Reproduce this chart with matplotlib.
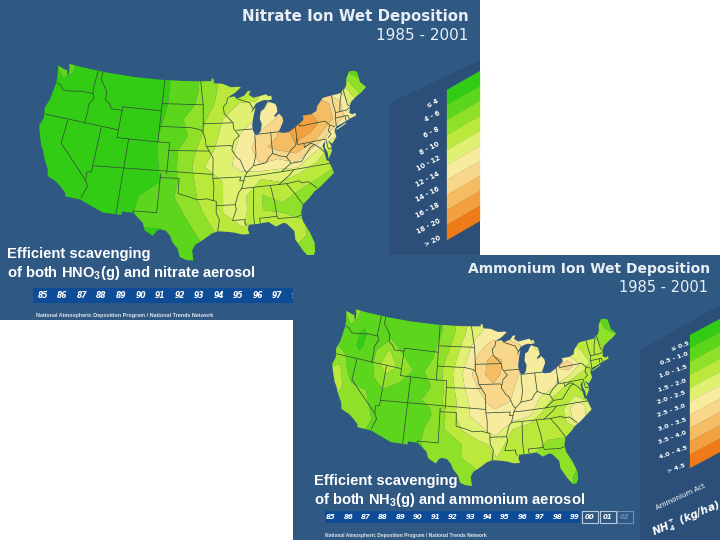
import numpy as np
import matplotlib
matplotlib.use('Agg')
import matplotlib.pyplot as plt
from matplotlib.patches import Polygon, Rectangle, PathPatch
from matplotlib.path import Path

plt.rcParams['mathtext.default'] = 'regular'

PANEL = '#2f5883'
DARK = '#2b4f78'
STRIP = '#0f4c97'

#class colours, lowest class first
colors = ['#33cc14', '#5cd61c', '#8ee128', '#bae93b', '#e0f070',
          '#f7ec9e', '#f8d68a', '#f5bd63', '#f2a040', '#ef7a18']

nitrate_levels = [0, 4, 6, 8, 10, 12, 14, 16, 18, 20, 99]
nitrate_labels = ['≤ 4', '4 - 6', '6 - 8', '8 - 10', '10 - 12', '12 - 14',
                  '14 - 16', '16 - 18', '18 - 20', '> 20']
ammonium_levels = [0, 0.5, 1, 1.5, 2, 2.5, 3, 3.5, 4, 4.5, 99]
ammonium_labels = ['≤ 0.5', '0.5 - 1.0', '1.0 - 1.5', '1.5 - 2.0', '2.0 - 2.5',
                   '2.5 - 3.0', '3.0 - 3.5', '3.5 - 4.0', '4.0 - 4.5', '> 4.5']
years_a = ['85', '86', '87', '88', '89', '90', '91', '92', '93', '94', '95', '96', '97', '98']
years_b = ['85', '86', '87', '88', '89', '90', '91', '92', '93', '94', '95', '96', '97', '98', '99']
years_b_boxed = ['00', '01', '02']

grid_lon = [-126, -123, -120, -117, -114, -111, -108, -105, -102, -99, -96, -93, -90, -87, -84, -81, -78, -75, -72, -69, -66]
grid_lat = [50, 48, 46, 44, 42, 40, 38, 36, 34, 32, 30, 28, 26, 24]

#deposition, kg/ha, north to south
nitrate = [
    [3, 5, 3, 3, 3, 3, 3, 3, 4.5, 5, 7, 8.5, 8.5, 9, 10, 10, 10, 10, 8, 5, 5],
    [3, 5, 3, 3, 3, 3, 3, 3, 4.5, 5, 7, 8.5, 8.5, 9, 10, 10, 11, 11, 8, 5, 5],
    [3, 3, 3, 3, 3, 3, 3, 3, 4.5, 5.5, 7, 9, 10, 10, 12, 13, 14, 14, 12, 7, 5],
    [3, 3, 3, 3, 3, 3, 3, 3, 5, 6.5, 8, 10, 10.5, 12, 13.5, 15, 18, 17, 14, 9, 6],
    [3, 3, 3, 3, 3, 3, 3, 3.5, 5, 6, 8.5, 10.5, 12, 14, 15, 19, 19, 17, 14, 11, 8],
    [3, 3, 3, 3, 3, 3, 3, 3.5, 5, 7, 9, 11, 12.5, 15, 17, 18, 17, 13, 12, 10, 8],
    [3, 3, 3, 3, 3, 3, 3, 3, 5, 7, 10, 11, 13, 14, 13.5, 15, 11, 9, 9, 8, 8],
    [3, 3, 3, 3.5, 3, 3, 3, 3, 4.5, 7, 9, 10, 10.5, 10, 10.5, 10, 9, 8, 8, 8, 8],
    [3, 3, 3, 3.5, 3.5, 3, 3, 4.5, 5, 7, 8.5, 10, 10.5, 8, 9, 8, 7, 7, 7, 7, 7],
    [3, 3, 3, 3.5, 3.5, 3, 3, 5, 5, 6, 8, 10, 10.5, 8, 7.5, 7, 6, 6, 6, 6, 6],
    [3, 3, 3, 3, 3, 3, 4, 4, 4, 5, 7, 9, 10, 9, 9, 8, 7, 6, 6, 6, 6],
    [3, 3, 3, 3, 3, 3, 4, 4, 4, 5, 6, 8, 9, 9, 9, 8, 7, 6, 6, 6, 6],
    [3, 3, 3, 3, 3, 3, 4, 4, 4, 5, 6, 6, 8, 8, 8, 7, 7, 6, 6, 6, 6],
    [3, 3, 3, 3, 3, 3, 4, 4, 4, 5, 6, 6, 8, 8, 8, 7, 7, 6, 6, 6, 6],
]
ammonium = [
    [.8, 1.2, .8, .8, .8, .8, .8, .8, 1.2, 1.8, 2.3, 2.6, 2.6, 2.5, 2.2, 2, 2, 1.7, 1.3, .9, .9],
    [.8, 1.2, .7, .8, .8, .8, .8, .8, 1.2, 1.9, 2.4, 2.7, 2.8, 2.7, 2.3, 2, 2, 1.8, 1.4, .9, .9],
    [.8, .9, .4, .8, 1, .8, .8, .9, 1.4, 2.1, 2.8, 3.2, 3.3, 3, 2.4, 2.2, 2, 1.8, 1.5, 1, .9],
    [1, .8, .4, .9, 1.6, 1, .8, 1, 1.6, 2.3, 3.1, 3.7, 3.4, 3, 2.6, 2.6, 2.4, 2, 1.7, 1.2, 1],
    [1.2, 1.1, .7, .9, 1.9, 1.3, .9, 1.1, 1.7, 2.5, 3.3, 3.7, 3.3, 2.9, 2.6, 3, 3.4, 2.2, 1.7, 1.4, 1.2],
    [1.3, 1.7, .5, .9, 1.2, 1, .9, 1, 1.6, 2.4, 3, 3.4, 3.1, 2.8, 2.9, 2.7, 2, 1.8, 1.6, 1.4, 1.2],
    [1.4, 1.8, 1.2, 1, .9, .9, .9, 1.1, 1.6, 2.2, 2.9, 3.1, 3, 2.9, 2.4, 1.8, 1.8, 1.8, 1.6, 1.4, 1.2],
    [1.5, 1.6, 1.3, 1.1, .8, .7, .5, .9, 1.5, 2.3, 2.7, 2.9, 2.9, 2.7, 1.9, 1.8, 3, 2, 1.6, 1.4, 1.2],
    [1.3, 1.2, 1.2, 1.2, .9, .5, .6, 1.1, 1.5, 2, 2.3, 2.8, 2, 1.7, 1.7, 1.7, 3, 1.6, 1.4, 1.4, 1.2],
    [1.2, 1.2, 1.2, 1.1, .8, .7, .8, 1.1, 1.3, 1.5, 1.9, 2.1, 1.9, 1.6, 1.5, 1.5, 1.4, 1.4, 1.4, 1.4, 1.2],
    [1, 1, 1, 1, 1, 1, 1, 1, 1.2, 1.5, 1.8, 2, 1.8, 1.5, 1.3, 1.1, 1, 1, 1, 1, 1],
    [1, 1, 1, 1, 1, 1, 1, 1, 1, 1.3, 1.5, 1.6, 1.8, 1.6, 1.3, 1.1, .9, .9, .9, .9, .9],
    [1, 1, 1, 1, 1, 1, 1, 1, 1, 1.4, 1.5, 1.5, 1.6, 1.5, 1.3, 1, .9, .9, .9, .9, .9],
    [1, 1, 1, 1, 1, 1, 1, 1, 1, 1.4, 1.5, 1.5, 1.6, 1.5, 1.3, 1, .9, .9, .9, .9, .9],
]

#lower 48 coastline and border, lon/lat
us_outline = [(-124.7, 48.4), (-123.2, 48.15), (-122.75, 48.15), (-122.4, 47.4), (-122.3, 47.9), (-122.5, 48.6), (-122.8, 49),
    (-120, 49), (-115, 49), (-110, 49), (-105, 49), (-100, 49), (-97.2, 49), (-95.15, 49), (-95.15, 49.38), (-94.8, 49.3), (-94.6, 48.7),
    (-93, 48.6), (-91.5, 48.1), (-90, 48.1), (-89.6, 48), (-90.8, 47.3), (-91.5, 47.05), (-92.1, 46.75), (-90.9, 46.9), (-90.4, 46.55),
    (-89, 46.9), (-88.4, 47.4), (-87.8, 47.45), (-88.2, 46.95), (-87.4, 46.5), (-86, 46.65), (-85, 46.75), (-84.6, 46.45), (-84.1, 46.5),
    (-84, 46), (-84.7, 45.95), (-85.5, 46.05), (-86.3, 45.9), (-87, 45.7), (-87.6, 45.1), (-88, 44.55), (-87.1, 45.25), (-87.5, 44.3),
    (-87.9, 43), (-87.8, 42.3), (-87.5, 41.7), (-87, 41.7), (-86.5, 42.1), (-86.2, 43), (-86.5, 43.7), (-86.2, 44.7), (-85.6, 44.9),
    (-85.1, 45.5), (-84.75, 45.78), (-83.5, 45.35), (-83.3, 44.9), (-83.3, 44.3), (-83.9, 43.9), (-83.9, 43.65), (-83, 44.05), (-82.5, 43.5),
    (-82.45, 43), (-82.9, 42.4), (-83.2, 42), (-83.45, 41.7), (-82.7, 41.5), (-81.7, 41.5), (-80.5, 42), (-79, 42.7), (-78.9, 43),
    (-79.05, 43.27), (-77.5, 43.25), (-76.5, 43.5), (-76.2, 44.1), (-75, 44.95), (-74.7, 45), (-71.5, 45.02), (-71.3, 45.3), (-70.8, 45.4),
    (-70.3, 45.9), (-70, 46.7), (-69.2, 47.45), (-68.3, 47.35), (-67.8, 47.05), (-67.8, 45.7), (-67, 44.85), (-68, 44.4), (-69, 44.1),
    (-70.2, 43.6), (-70.7, 43.05), (-70.8, 42.6), (-71, 42.3), (-70.6, 41.95), (-70, 42.05), (-69.95, 41.7), (-70.6, 41.6), (-71.2, 41.5),
    (-72, 41.3), (-73.6, 41), (-74, 40.7), (-74.1, 40.4), (-74, 39.7), (-74.9, 38.95), (-75.55, 39.5), (-75.1, 38.7), (-75.2, 38),
    (-75.95, 37.15), (-75.9, 37.9), (-76.2, 38.7), (-76, 39.5), (-76.5, 39), (-76.4, 38), (-76.3, 37), (-76, 36.9), (-75.5, 35.25),
    (-76.5, 34.7), (-77.9, 33.9), (-79, 33.4), (-79.9, 32.7), (-81, 32), (-81.4, 31), (-81.3, 29.9), (-80.55, 28.4), (-80.05, 26.9),
    (-80.15, 25.7), (-80.5, 25.2), (-81.1, 25.15), (-81.8, 26.1), (-82.7, 27.7), (-82.7, 28.8), (-83.7, 29.9), (-84.2, 30.05), (-85.3, 29.7),
    (-86.3, 30.4), (-88, 30.3), (-89.2, 30.3), (-89.4, 29.8), (-89.2, 29.1), (-90.2, 29.1), (-91.3, 29.4), (-92.2, 29.55), (-93.8, 29.7),
    (-94.7, 29.4), (-95.8, 28.7), (-97, 28), (-97.4, 27.3), (-97.2, 25.95), (-98.2, 26.05), (-99.1, 26.4), (-99.5, 27.5), (-100.3, 28.3),
    (-100.7, 29.1), (-101.4, 29.77), (-102.3, 29.88), (-102.7, 29.7), (-103.2, 29), (-104.5, 29.65), (-104.9, 30.6), (-106.5, 31.75),
    (-108.2, 31.78), (-108.2, 31.33), (-111.07, 31.33), (-114.8, 32.5), (-117.12, 32.53), (-117.3, 33), (-118.4, 33.75), (-119.2, 34.15),
    (-120.6, 34.55), (-120.9, 35.4), (-121.9, 36.6), (-122.5, 37.5), (-123, 38), (-123.8, 39.3), (-124.4, 40.4), (-124.1, 41.5),
    (-124.5, 42.8), (-124.1, 44), (-124, 46.2), (-124.1, 46.9), (-124.7, 48.4)]
long_island = [(-74, 40.6), (-72, 41.15), (-71.9, 41.05), (-73.5, 40.6), (-74, 40.6)]

state_lines = [
    [(-124, 46.25), (-123.2, 46.15), (-122.3, 45.55), (-121.2, 45.65), (-119.3, 45.93), (-118.98, 46), (-116.92, 46)],
    [(-117.03, 49), (-117.04, 46.4), (-116.92, 46), (-116.5, 45.5), (-117.2, 44.4), (-117.03, 43.8), (-117.03, 42)],
    [(-124.2, 42), (-111.05, 42)],
    [(-120, 42), (-120, 39), (-114.63, 35), (-114.15, 34.3), (-114.5, 33.4), (-114.72, 32.72)],
    [(-114.63, 35), (-114.75, 36.1), (-114.05, 36.2), (-114.05, 42)],
    [(-114.05, 37), (-94.62, 37)],
    [(-109.05, 41), (-109.05, 31.33)],
    [(-111.05, 45), (-111.05, 41), (-104.05, 41)],
    [(-116.05, 49), (-116.05, 48), (-114.5, 46.6), (-114.4, 45.55), (-113.5, 45.1), (-113, 44.5), (-111.5, 44.55), (-111.05, 44.5)],
    [(-111.05, 45), (-104.05, 45)],
    [(-104.05, 49), (-104.05, 41), (-102.05, 41), (-102.05, 37)],
    [(-102.05, 40), (-95.3, 40)],
    [(-103, 37), (-103, 32), (-106.6, 32), (-106.5, 31.75)],
    [(-103, 36.5), (-100, 36.5), (-100, 34.56), (-98, 34.1), (-97, 33.8), (-95.5, 33.9), (-94.5, 33.65), (-94.04, 33.55), (-94.04, 32), (-93.55, 31.2), (-93.8, 29.7)],
    [(-104.05, 45.94), (-96.56, 45.94)],
    [(-104.05, 43), (-98.5, 43), (-97, 42.75), (-96.45, 42.5)],
    [(-97.2, 49), (-96.8, 47), (-96.56, 45.94), (-96.45, 43.5), (-96.45, 42.5), (-96, 41.5), (-95.85, 40.7), (-95.3, 40), (-94.62, 39.1), (-94.62, 36.5), (-94.43, 35.4), (-94.5, 33.65)],
    [(-96.45, 43.5), (-91.22, 43.5)],
    [(-95.77, 40.58), (-91.7, 40.6), (-91.4, 40.4)],
    [(-94.62, 36.5), (-90.15, 36.5), (-90.37, 36), (-89.7, 36)],
    [(-94.04, 33), (-91.15, 33)],
    [(-92.1, 46.75), (-92.3, 46.1), (-92.9, 45.6), (-92.75, 44.75), (-91.22, 43.5), (-91.1, 42.7), (-90.2, 41.8), (-91.1, 41.2), (-91.4, 40.4), (-91.5, 40), (-90.7, 39), (-90.2, 38.7), (-89.5, 37.3), (-89.15, 37), (-89.5, 36.5), (-89.7, 36), (-90.1, 35), (-90.6, 34.5), (-91.15, 33), (-91, 32.4), (-91.6, 31), (-89.75, 31), (-89.8, 30.65), (-89.55, 30.2)],
    [(-90.64, 42.5), (-87.8, 42.5)],
    [(-90.4, 46.55), (-88.1, 45.9), (-87.6, 45.1)],
    [(-87.53, 41.7), (-87.53, 39.3), (-87.9, 38.2), (-88.05, 37.8)],
    [(-89.15, 37), (-88.05, 37.8), (-87, 37.9), (-86, 38), (-85.4, 38.7), (-84.8, 39.1), (-83.7, 38.65), (-82.6, 38.4), (-81.7, 39.2), (-80.85, 39.7), (-80.52, 40.64)],
    [(-84.8, 39.1), (-84.8, 41.76)],
    [(-87, 41.76), (-84.8, 41.76), (-83.45, 41.73)],
    [(-80.52, 42), (-80.52, 39.72), (-75.79, 39.72), (-75.7, 38.45), (-75.05, 38.45)],
    [(-79.76, 42.27), (-79.76, 42), (-75.35, 42), (-74.7, 41.36), (-75.1, 40.7), (-74.75, 40.2), (-75.4, 39.8)],
    [(-74.7, 41.36), (-73.9, 41)],
    [(-73.65, 41), (-73.5, 42.05), (-73.27, 42.75), (-73.4, 44), (-73.35, 45.01)],
    [(-71.5, 45.01), (-72.05, 44.1), (-72.45, 43), (-72.46, 42.73)],
    [(-71.08, 45.3), (-70.98, 43.4), (-70.7, 43.05)],
    [(-73.27, 42.74), (-71.3, 42.7), (-70.85, 42.87)],
    [(-73.5, 42.05), (-71.38, 42.02), (-71.2, 41.5)],
    [(-71.8, 42.02), (-71.85, 41.32)],
    [(-89.5, 36.5), (-88, 36.5), (-83.67, 36.6), (-75.9, 36.55)],
    [(-83.67, 36.6), (-82, 37.5), (-80.3, 37.5), (-79.3, 38.4), (-78.4, 39.15), (-77.75, 39.32), (-77.05, 38.8), (-76.3, 38)],
    [(-79.48, 39.72), (-79.48, 39.2), (-78.4, 39.6), (-77.75, 39.32)],
    [(-82.6, 38.4), (-82, 37.5)],
    [(-81.7, 36.6), (-82.5, 36), (-84.3, 35)],
    [(-90.1, 35), (-83.1, 35), (-81, 35.1), (-80.8, 34.8), (-79.7, 34.8), (-78.55, 33.85)],
    [(-83.1, 35), (-81.9, 33.5), (-81, 32.05)],
    [(-85.6, 35), (-85.15, 32.8), (-85, 31), (-84.87, 30.7), (-82.2, 30.55), (-81.45, 30.7)],
    [(-88.2, 35), (-88.45, 31.9), (-88.4, 30.25)],
    [(-85, 31), (-87.6, 31), (-87.5, 30.3)],
]

#georeference: lon, lat, pixel x, pixel y
ref_a = [(-124.7, 48.4, 56, 66), (-97.2, 49, 201, 82), (-67, 44.85, 368, 88), (-97.2, 25.95, 197, 263),
         (-117.12, 32.53, 72, 195), (-124.4, 40.4, 41, 125), (-106.5, 31.75, 122, 213), (-75.5, 35.25, 333, 170)]
ref_b = [(-124.7, 48.4, 343, 312), (-97.2, 49, 471, 333), (-67, 44.85, 618, 333), (-81, 25.15, 576, 487),
         (-97.2, 25.95, 465, 488), (-117.12, 32.53, 365, 428), (-124.4, 40.4, 332, 358), (-75.5, 35.25, 591, 402)]


def albers(lon, lat):
    lon, lat = np.radians(lon), np.radians(lat)
    p1, p2, p0, l0 = np.radians([29.5, 45.5, 37.5, -96])
    n = (np.sin(p1) + np.sin(p2)) / 2
    c = np.cos(p1) ** 2 + 2 * n * np.sin(p1)
    rho = np.sqrt(c - 2 * n * np.sin(lat)) / n
    rho0 = np.sqrt(c - 2 * n * np.sin(p0)) / n
    th = n * (lon - l0)
    return rho * np.sin(th), rho0 - rho * np.cos(th)


def make_proj(ref):
    ref = np.array(ref, dtype=float)
    x, y = albers(ref[:, 0], ref[:, 1])
    A = np.column_stack([x, y, np.ones(len(x))])
    cx = np.linalg.lstsq(A, ref[:, 2], rcond=None)[0]
    cy = np.linalg.lstsq(A, ref[:, 3], rcond=None)[0]

    def proj(lon, lat):
        u, v = albers(np.asarray(lon, dtype=float), np.asarray(lat, dtype=float))
        return cx[0] * u + cx[1] * v + cx[2], cy[0] * u + cy[1] * v + cy[2]
    return proj


def draw_map(ax, ref, values, levels, z):
    proj = make_proj(ref)
    lon, lat = np.meshgrid(grid_lon, grid_lat)
    X, Y = proj(lon, lat)
    cs = ax.contourf(X, Y, np.array(values), levels=levels, colors=colors, zorder=z, antialiased=True)

    verts, codes = [], []
    for ring in (us_outline, long_island):
        r = np.array(ring)
        px, py = proj(r[:, 0], r[:, 1])
        verts += list(zip(px, py))
        codes += [Path.MOVETO] + [Path.LINETO] * (len(r) - 2) + [Path.CLOSEPOLY]
    clip = PathPatch(Path(verts, codes), transform=ax.transData, fc='none', ec='none')
    ax.add_patch(clip)
    cs.set_clip_path(clip)

    for line in state_lines:
        r = np.array(line)
        px, py = proj(r[:, 0], r[:, 1])
        l, = ax.plot(px, py, color='#34503a', lw=0.55, zorder=z + 1, solid_capstyle='round')
        l.set_clip_path(clip)


def draw_key(ax, x0, x1, y_top, y_bot, rise, z):
    h = (y_bot - y_top) / len(colors)
    for i, c in enumerate(colors):
        ya, yb = y_top + i * h, y_top + (i + 1) * h
        ax.add_patch(Polygon([(x0, ya), (x1, ya - rise), (x1, yb - rise), (x0, yb)], fc=c, ec=c, lw=0.2, zorder=z))


fig = plt.figure(figsize=(7.2, 5.4), dpi=100)
ax = fig.add_axes([0, 0, 1, 1])
ax.set_xlim(0, 720)
ax.set_ylim(540, 0)
ax.axis('off')

# first slide
ax.add_patch(Rectangle((0, 0), 480, 320, fc=PANEL, ec='none', zorder=1))
ax.add_patch(Polygon([(390, 103), (480, 60), (480, 255), (390, 255)], fc=DARK, ec='none', zorder=1.5))
draw_map(ax, ref_a, nitrate, nitrate_levels, 2)
ax.text(469, 16, 'Nitrate Ion Wet Deposition', color='#e8eef4', ha='right', va='center', fontsize=10.8, fontweight='bold', zorder=4)
ax.text(468, 36, '1985 - 2001', color='#e8eef4', ha='right', va='center', fontsize=11, zorder=4)
draw_key(ax, 447, 480, 90, 240, 19, 4)
for lab, lx, ly in zip(nitrate_labels, [433, 432, 431, 430, 429, 428, 428, 428, 429, 433], [103, 116, 132, 148, 163, 179, 194, 210, 226, 241]):
    ax.text(lx, ly, lab, color='white', rotation=27, ha='center', va='center', fontsize=4.8, fontweight='bold', zorder=4)
ax.text(7, 254, 'Efficient scavenging', color='white', va='center', fontsize=10.6, fontweight='bold', family='Liberation Sans', zorder=4)
ax.text(7, 273, 'of both HNO$_3$(g) and nitrate aerosol', color='white', va='center', fontsize=10.6, fontweight='bold', family='Liberation Sans', zorder=4)
ax.add_patch(Rectangle((33, 288), 260, 15, fc=STRIP, ec='none', zorder=4))
for i, yr in enumerate(years_a):
    ax.text(43 + i * 19.5, 296, yr, color='white', ha='center', va='center', fontsize=5.5, fontweight='bold', style='italic', zorder=5)
ax.text(36, 316, 'National Atmospheric Deposition Program / National Trends Network', color='#dfe6ee', va='center', fontsize=3.9, fontweight='bold', family='Liberation Sans', zorder=4)

# second slide on top of it
ax.add_patch(Rectangle((293, 255), 427, 285, fc=PANEL, ec='none', zorder=10))
ax.add_patch(Polygon([(640, 350), (720, 305), (720, 540), (640, 540)], fc=DARK, ec='none', zorder=10.5))
ax.text(314, 481, 'Efficient scavenging', color='white', va='center', fontsize=10.6, fontweight='bold', family='Liberation Sans', zorder=10.8)
draw_map(ax, ref_b, ammonium, ammonium_levels, 11)
ax.text(710, 269, 'Ammonium Ion Wet Deposition', color='#e8eef4', ha='right', va='center', fontsize=10, fontweight='bold', zorder=13)
ax.text(708, 287, '1985 - 2001', color='#e8eef4', ha='right', va='center', fontsize=10.5, zorder=13)
draw_key(ax, 690, 720, 335, 468, 16, 13)
for lab, lx, ly in zip(ammonium_labels, [680, 674, 673, 672, 671, 671, 672, 672, 673, 676], [346, 359, 372, 386, 398, 411, 425, 448 - 10, 453, 468]):
    ax.text(lx, ly, lab, color='white', rotation=20, ha='center', va='center', fontsize=4.6, fontweight='bold', zorder=13)
ax.text(314, 500, 'of both NH$_3$(g) and ammonium aerosol', color='white', va='center', fontsize=10.6, fontweight='bold', family='Liberation Sans', zorder=13)
ax.add_patch(Rectangle((325, 511), 255, 12, fc=STRIP, ec='none', zorder=13))
for i, yr in enumerate(years_b):
    ax.text(331 + i * 17.4, 517, yr, color='white', ha='center', va='center', fontsize=5, fontweight='bold', style='italic', zorder=14)
for i, yr in enumerate(years_b_boxed):
    ax.add_patch(Rectangle((582 + i * 17.5, 511), 16, 12, fc='none', ec='#b5cbe2' if i < 2 else '#6f8fb3', lw=0.8, zorder=14))
    ax.text(590 + i * 17.5, 517, yr, color='white' if i < 2 else '#6f8fb3', ha='center', va='center', fontsize=5, fontweight='bold', style='italic', zorder=14)
ax.text(325, 535, 'National Atmospheric Deposition Program / National Trends Network', color='#dfe6ee', va='center', fontsize=3.5, fontweight='bold', family='Liberation Sans', zorder=13)
ax.text(681, 497, 'Ammonium Act', color='white', rotation=25, ha='center', va='center', fontsize=5, zorder=13)
ax.text(686, 519, 'NH$_4^+$ (kg/ha)', color='white', rotation=23, ha='center', va='center', fontsize=7.5, fontweight='bold', style='italic', zorder=13)

fig.savefig('out.png', dpi=100)
